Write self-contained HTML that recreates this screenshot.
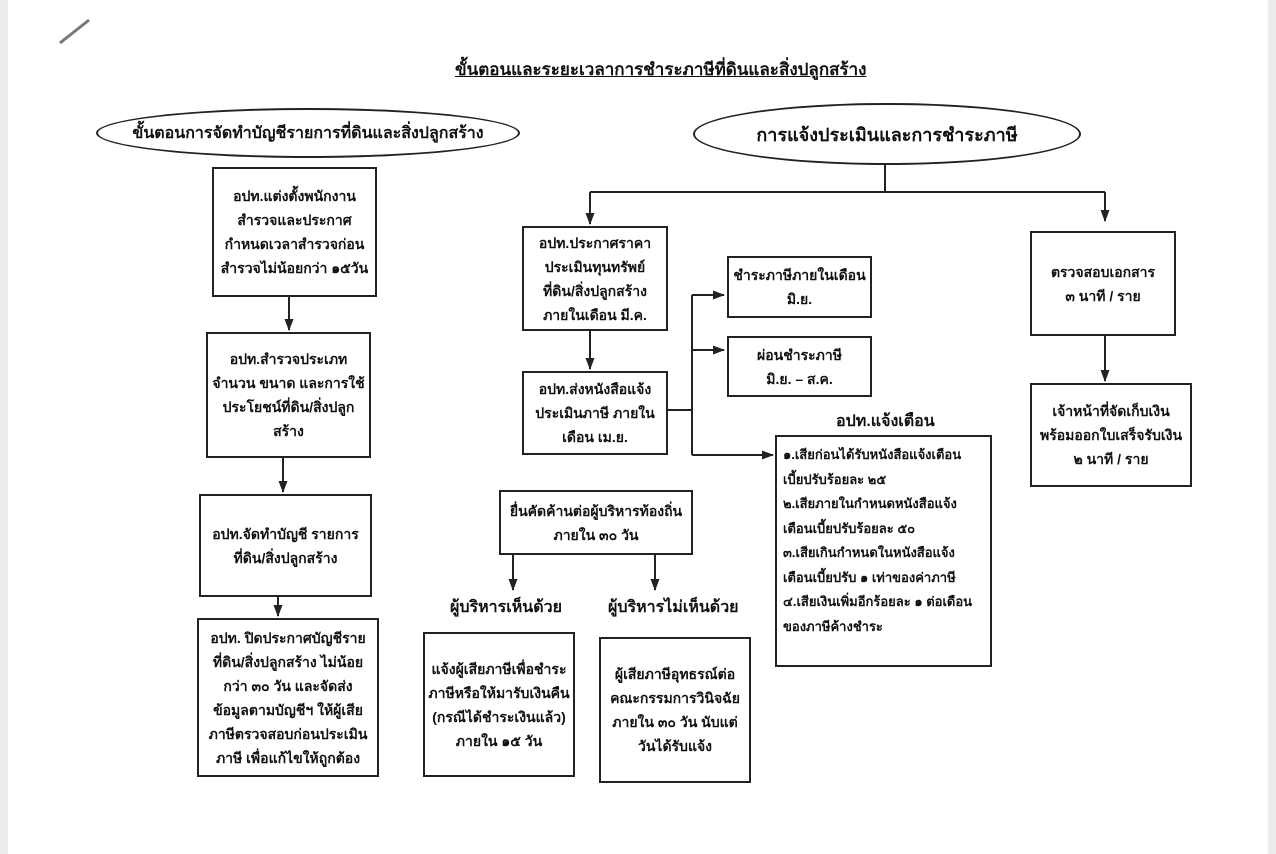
<!DOCTYPE html>
<html><head><meta charset="utf-8"><style>
body{margin:0;width:1276px;height:854px;background:#fff;position:relative;overflow:hidden;font-family:"Liberation Sans","DejaVu Sans","Noto Sans CJK SC",sans-serif;color:#111}
.edge{position:absolute;top:0;bottom:0;background:#ececec}
.b{position:absolute;border:2px solid #222;box-sizing:border-box;display:flex;align-items:center;justify-content:center;text-align:center;font-weight:bold;font-size:14px;line-height:24px}
.l{position:absolute;font-weight:bold;font-size:16px;white-space:nowrap}
.e{position:absolute;border:2px solid #222;border-radius:50%;box-sizing:border-box;display:flex;align-items:center;justify-content:center;font-weight:bold;font-size:18px;white-space:nowrap}
svg{position:absolute;left:0;top:0}
</style></head><body>
<div class="edge" style="left:0;width:8px"></div>
<div class="edge" style="right:0;width:8px"></div>
<div class="l" style="left:455px;top:56px;font-size:17px;text-decoration:underline">ขั้นตอนและระยะเวลาการชำระภาษีที่ดินและสิ่งปลูกสร้าง</div>
<div class="e" style="left:96px;top:108px;width:424px;height:50px;font-size:16px">ขั้นตอนการจัดทำบัญชีรายการที่ดินและสิ่งปลูกสร้าง</div>
<div class="e" style="left:693px;top:103px;width:388px;height:62px">การแจ้งประเมินและการชำระภาษี</div>

<div class="b" style="left:212px;top:167px;width:165px;height:130px">อปท.แต่งตั้งพนักงาน<br>สำรวจและประกาศ<br>กำหนดเวลาสำรวจก่อน<br>สำรวจไม่น้อยกว่า ๑๕วัน</div>
<div class="b" style="left:206px;top:332px;width:165px;height:126px">อปท.สำรวจประเภท<br>จำนวน ขนาด และการใช้<br>ประโยชน์ที่ดิน/สิ่งปลูก<br>สร้าง</div>
<div class="b" style="left:199px;top:494px;width:173px;height:103px">อปท.จัดทำบัญชี รายการ<br>ที่ดิน/สิ่งปลูกสร้าง</div>
<div class="b" style="left:197px;top:618px;width:182px;height:159px">อปท. ปิดประกาศบัญชีราย<br>ที่ดิน/สิ่งปลูกสร้าง ไม่น้อย<br>กว่า ๓๐ วัน และจัดส่ง<br>ข้อมูลตามบัญชีฯ ให้ผู้เสีย<br>ภาษีตรวจสอบก่อนประเมิน<br>ภาษี เพื่อแก้ไขให้ถูกต้อง</div>

<div class="b" style="left:522px;top:226px;width:146px;height:105px">อปท.ประกาศราคา<br>ประเมินทุนทรัพย์<br>ที่ดิน/สิ่งปลูกสร้าง<br>ภายในเดือน มี.ค.</div>
<div class="b" style="left:522px;top:371px;width:146px;height:84px">อปท.ส่งหนังสือแจ้ง<br>ประเมินภาษี ภายใน<br>เดือน เม.ย.</div>
<div class="b" style="left:727px;top:256px;width:145px;height:62px">ชำระภาษีภายในเดือน<br>มิ.ย.</div>
<div class="b" style="left:727px;top:336px;width:145px;height:61px">ผ่อนชำระภาษี<br>มิ.ย. – ส.ค.</div>
<div class="l" style="left:836px;top:409px">อปท.แจ้งเตือน</div>
<div class="b" style="left:775px;top:435px;width:217px;height:232px;align-items:flex-start;justify-content:flex-start;text-align:left;padding:6px 6px;line-height:24.5px;font-size:13px;white-space:nowrap">๑.เสียก่อนได้รับหนังสือแจ้งเตือน<br>เบี้ยปรับร้อยละ ๒๕<br>๒.เสียภายในกำหนดหนังสือแจ้ง<br>เตือนเบี้ยปรับร้อยละ ๕๐<br>๓.เสียเกินกำหนดในหนังสือแจ้ง<br>เตือนเบี้ยปรับ ๑ เท่าของค่าภาษี<br>๔.เสียเงินเพิ่มอีกร้อยละ ๑ ต่อเดือน<br>ของภาษีค้างชำระ</div>
<div class="b" style="left:1030px;top:231px;width:146px;height:105px">ตรวจสอบเอกสาร<br>๓ นาที / ราย</div>
<div class="b" style="left:1030px;top:383px;width:162px;height:104px">เจ้าหน้าที่จัดเก็บเงิน<br>พร้อมออกใบเสร็จรับเงิน<br>๒ นาที / ราย</div>
<div class="b" style="left:499px;top:490px;width:194px;height:65px">ยื่นคัดค้านต่อผู้บริหารท้องถิ่น<br>ภายใน ๓๐ วัน</div>
<div class="l" style="left:450px;top:595px">ผู้บริหารเห็นด้วย</div>
<div class="l" style="left:608px;top:595px">ผู้บริหารไม่เห็นด้วย</div>
<div class="b" style="left:423px;top:632px;width:152px;height:145px">แจ้งผู้เสียภาษีเพื่อชำระ<br>ภาษีหรือให้มารับเงินคืน<br>(กรณีได้ชำระเงินแล้ว)<br>ภายใน ๑๕ วัน</div>
<div class="b" style="left:599px;top:637px;width:152px;height:146px">ผู้เสียภาษีอุทธรณ์ต่อ<br>คณะกรรมการวินิจฉัย<br>ภายใน ๓๐ วัน นับแต่<br>วันได้รับแจ้ง</div>

<svg width="1276" height="854">
<defs><marker id="a" markerUnits="userSpaceOnUse" markerWidth="12" markerHeight="12" refX="11" refY="6" orient="auto"><path d="M0,1.5 L12,6 L0,10.5 z" fill="#222"/></marker></defs>
<g stroke="#222" stroke-width="2" fill="none">
<line x1="60" y1="43" x2="89" y2="20" stroke="#777" stroke-width="3"/>
<line x1="289" y1="297" x2="289" y2="330" marker-end="url(#a)"/>
<line x1="283" y1="458" x2="283" y2="492" marker-end="url(#a)"/>
<line x1="278" y1="597" x2="278" y2="616" marker-end="url(#a)"/>
<line x1="885" y1="165" x2="885" y2="192"/>
<line x1="590" y1="192" x2="1105" y2="192"/>
<line x1="590" y1="192" x2="590" y2="224" marker-end="url(#a)"/>
<line x1="1105" y1="192" x2="1105" y2="221" marker-end="url(#a)"/>
<line x1="590" y1="331" x2="590" y2="369" marker-end="url(#a)"/>
<line x1="668" y1="410" x2="692" y2="410"/>
<line x1="692" y1="295" x2="692" y2="455"/>
<line x1="692" y1="295" x2="724" y2="295" marker-end="url(#a)"/>
<line x1="692" y1="350" x2="724" y2="350" marker-end="url(#a)"/>
<line x1="692" y1="455" x2="773" y2="455" marker-end="url(#a)"/>
<line x1="1105" y1="336" x2="1105" y2="381" marker-end="url(#a)"/>
<line x1="513" y1="555" x2="513" y2="590" marker-end="url(#a)"/>
<line x1="655" y1="555" x2="655" y2="590" marker-end="url(#a)"/>
</g></svg>
</body></html>
